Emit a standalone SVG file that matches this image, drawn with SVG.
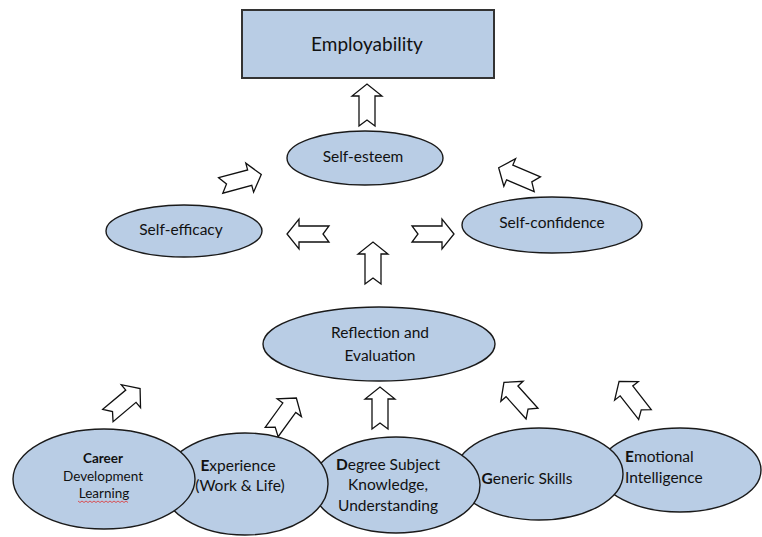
<svg xmlns="http://www.w3.org/2000/svg" width="762" height="537" viewBox="0 0 762 537">
<defs>
<style>
.n{fill:#b9cde5;stroke:#1a1a1a;stroke-width:1.4}
.r{fill:#b9cde5;stroke:#333;stroke-width:2}
.a{fill:#fff;stroke:#111;stroke-width:1.3;stroke-linejoin:miter}
text{font-family:Lato,"Liberation Sans",sans-serif;fill:#111;font-size:15.5px}
.c{text-anchor:middle}
.b{font-weight:bold}
.s{font-size:13.5px}
</style>
<path id="arr" d="M-21,-8 L9,-8 L9,-15 L21,0 L9,15 L9,8 L-21,8 L-15,0 Z"/>
</defs>
<g id="connectors">
<use href="#arr" class="a" transform="translate(367,105) rotate(-90)"/>
<use href="#arr" class="a" transform="translate(241,180) rotate(-15)"/>
<use href="#arr" class="a" transform="translate(308,234) rotate(180)"/>
<use href="#arr" class="a" transform="translate(433,234)"/>
<use href="#arr" class="a" transform="translate(373,263) rotate(-90)"/>
<use href="#arr" class="a" transform="translate(518,176) rotate(-157)"/>
<use href="#arr" class="a" transform="translate(124,402) rotate(-40)"/>
<use href="#arr" class="a" transform="translate(284,415) rotate(-54)"/>
<use href="#arr" class="a" transform="translate(380,408) rotate(-90)"/>
<use href="#arr" class="a" transform="translate(518,398) rotate(-132)"/>
<use href="#arr" class="a" transform="translate(632,398) rotate(-128)"/>
</g>
<g id="employability">
<rect class="r" x="242" y="10" width="252" height="68"/>
<text class="c" x="367" y="51" style="font-size:19px">Employability</text>
</g>
<g id="self-esteem">
<ellipse class="n" cx="365" cy="158" rx="78" ry="27"/>
<text class="c" x="363" y="162">Self-esteem</text>
</g>
<g id="self-efficacy">
<ellipse class="n" cx="184" cy="231" rx="78" ry="26"/>
<text class="c" x="181" y="235">Self-efficacy</text>
</g>
<g id="self-confidence">
<ellipse class="n" cx="552" cy="225" rx="90" ry="28"/>
<text class="c" x="552" y="228">Self-confidence</text>
</g>
<g id="reflection">
<ellipse class="n" cx="379" cy="344" rx="116" ry="37"/>
<text class="c" x="380" y="338">Reflection and</text>
<text class="c" x="380" y="361">Evaluation</text>
</g>
<g id="emotional">
<ellipse class="n" cx="680" cy="470" rx="81" ry="42"/>
<text x="625" y="462"><tspan class="b">E</tspan>motional</text>
<text x="625" y="483">Intelligence</text>
</g>
<g id="generic">
<ellipse class="n" cx="539" cy="474" rx="84" ry="46"/>
<text class="c" x="527" y="484"><tspan class="b">G</tspan>eneric Skills</text>
</g>
<g id="degree">
<ellipse class="n" cx="396" cy="485" rx="84" ry="48"/>
<text class="c" x="388" y="470"><tspan class="b">D</tspan>egree Subject</text>
<text class="c" x="388" y="490">Knowledge,</text>
<text class="c" x="388" y="511">Understanding</text>
</g>
<g id="experience">
<ellipse class="n" cx="245" cy="484" rx="83" ry="51"/>
<text class="c" x="238" y="471"><tspan class="b">E</tspan>xperience</text>
<text class="c" x="240" y="491">(Work &amp; Life)</text>
</g>
<g id="career">
<ellipse class="n" cx="104" cy="479" rx="91" ry="50"/>
<text class="c b s" x="103" y="463">Career</text>
<text class="c s" x="103" y="481">Development</text>
<text class="c s" x="104" y="498">Learning</text>
<path d="M78,501 l2,1.5 l2,-1.5 l2,1.5 l2,-1.5 l2,1.5 l2,-1.5 l2,1.5 l2,-1.5 l2,1.5 l2,-1.5 l2,1.5 l2,-1.5 l2,1.5 l2,-1.5 l2,1.5 l2,-1.5 l2,1.5 l2,-1.5 l2,1.5 l2,-1.5 l2,1.5 l2,-1.5 l2,1.5 l2,-1.5 l2,1.5" fill="none" stroke="#e03030" stroke-width="0.8"/>
</g>
</svg>
